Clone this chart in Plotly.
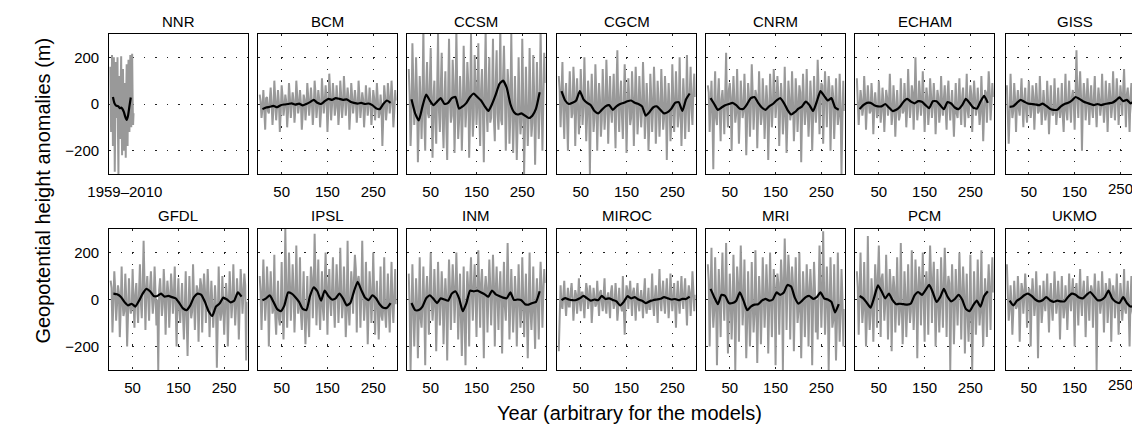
import plotly.graph_objects as go

# ---------------- data ----------------
panel_names = ["NNR", "BCM", "CCSM", "CGCM", "CNRM", "ECHAM", "GISS",
               "GFDL", "IPSL", "INM", "MIROC", "MRI", "PCM", "UKMO"]

# NNR reanalysis 1959-2010 (plotted as years 1..52)
nnr_years_a = list(range(1, 52, 2))
nnr_raw_a = [160, -120, 210, -180, 200, -290, 180, -60, 200, -300, 120, -150, 205,
             -220, 150, -200, 90, -230, 170, -180, 190, -120, 210, -100, 215, -90]
nnr_years_b = list(range(2, 53, 2))
nnr_raw_b = [40, -30, 60, -60, 20, -100, 50, 30, -120, 20, -40, 80, -60,
             10, -50, 30, -90, 40, -60, 70, -20, 40, 0, 60, 20, -40]
nnr_smooth_years = list(range(7, 47, 3))
nnr_smooth = [30, 5, -5, -8, -10, -18, -15, -22, -35, -55, -68, -50, -10, 28]

# model years: raw values read at years 2,6,10,... (a) and 4,8,12,... (b);
# smoothed series every 8 years
years_a = list(range(2, 300, 4))
years_b = list(range(4, 301, 4))
smooth_years = list(range(8, 290, 8))

raw_BCM_a = [40, -60, 60, -110, 30, -40, 70, -90, 100, -70, 60, -120, 80, -50, 40,
             -100, 90, -60, 50, -80, 100, -40, 60, -110, 40, -70, 90, -50, 70, -90,
             100, -60, 60, -100, 110, -40, 80, -120, 130, -70, 90, -50, 80, -90, 100,
             -60, 120, -50, 70, -110, 90, -40, 60, -80, 100, -60, 50, -100, 80, -50,
             70, -90, 60, -70, 90, -60, 40, -180, 80, -70, 90, -40, 100, -100, 60]
raw_BCM_b = [10, -20, -5, 25, -30, 15, 0, -25, 20, -10, 5, -35, 30, -15, 10,
             -30, 25, -5, 15, -20, 35, -10, 5, -40, 20, -15, 30, -5, 10, -25,
             40, -10, 20, -30, 35, 5, 25, -20, 45, -5, 30, -15, 20, -25, 35,
             -5, 40, 10, 25, -30, 30, 0, 15, -20, 30, -10, 20, -25, 15, -5,
             10, -30, 25, -15, 20, -40, -10, -50, 30, -20, 35, 5, 20, -30, 15]
raw_CCSM_a = [150, -180, 260, -90, 200, -250, 120, -150, 330, -200, 180, -60, 240, -230, 100,
              -170, 300, -120, 220, -190, 140, -240, 280, -80, 190, -210, 320, -150, 120, -200,
              250, -100, 180, -230, 300, -140, 210, -90, 260, -180, 150, -250, 320, -120, 200,
              -60, 280, -160, 230, -110, 340, -90, 250, -200, 150, -170, 300, -210, 120, -240,
              200, -130, 280, -300, 160, -180, 240, -140, 210, -260, 180, -150, 320, -200, 220]
raw_CCSM_b = [40, -60, 80, -30, 50, -90, 20, 10, -70, 60, -40, 90, -20, 30, -80,
              50, -30, 70, -60, 20, -90, 40, 10, -50, 80, -30, 60, -70, 20, -40,
              70, -20, 90, -50, 30, -60, 80, 10, -40, 60, -30, 70, -20, 50, -80,
              30, -60, 90, -40, 20, -70, 110, 60, -30, 80, -50, 20, -60, -40, -80,
              -20, -70, 30, -90, -10, -60, 20, -80, 40, -50, 10, -30, 60, 20, 90]
raw_CGCM_a = [120, -100, 180, -150, 90, -200, 140, -60, 160, -180, 110, -130, 150, -90, 200,
              -160, 100, -300, 130, -120, 170, -200, 90, -140, 150, -110, 190, -170, 120, -80,
              130, -190, 230, -120, 100, -150, 170, -210, 110, -90, 140, -180, 160, -130, 120,
              -100, 180, -150, 90, -200, 130, -120, 160, -170, 100, -140, 150, -110, 120, -240,
              90, -160, 170, -120, 140, -100, 200, -180, 110, -150, 210, -120, 160, -90, 130]
raw_CGCM_b = [60, 20, -30, 40, -50, 10, 30, -40, 70, -20, 0, -60, 40, -10, 20,
              -50, 30, -20, 10, -60, 40, -30, 20, -70, 30, -40, 50, -10, -30, 20,
              -40, 60, -20, 30, -50, 10, 40, -30, 20, -60, 30, -10, 40, -50, 20,
              -30, 50, -60, 0, -80, 30, -20, 40, -50, 10, -40, 30, -60, 20, -30,
              0, -70, 40, -20, 30, -50, -10, -40, 20, -30, 10, 40, -20, 60, 30]
raw_CNRM_a = [80, -120, 100, -280, 140, -90, 110, -160, 60, -130, 220, -100, 90, -200, 120,
              -80, 150, -170, 100, -60, 130, -220, 90, -140, 170, -110, 60, -190, 140, -90,
              110, -150, 80, -240, 130, -100, 150, -60, 120, -180, 90, -130, 160, -210, 100,
              -70, 140, -160, 110, -120, 80, -250, 130, -90, 150, -140, 100, -200, 120, -80,
              190, -130, 90, -170, 140, -100, 120, -200, 80, -150, 110, -90, 130, -300, 100]
raw_CNRM_b = [50, -20, -40, 10, -60, 30, -30, 20, -10, 40, -20, 60, 30, -10, 20,
              -40, 0, -50, 20, -30, 10, -60, 30, -20, 50, -10, 40, -30, 0, -50,
              20, -40, 10, -60, 30, -20, 50, 0, 40, -30, 10, -50, -20, -70, 30,
              -40, 10, -60, 30, -20, 50, -40, 10, -30, -10, -50, 20, -60, 0, -20,
              60, 20, 80, -10, 40, 30, 60, -20, 30, -40, 0, -50, -10, -60, -30]
raw_ECHAM_a = [110, -90, 60, -50, 120, -110, 80, -40, 90, -130, 50, -60, 100, -80, 70,
               -120, 60, -50, 130, -90, 80, -140, 60, -70, 110, -40, 90, -100, 150, -60,
               80, -110, 200, -70, 100, -50, 140, -120, 70, -90, 110, -60, 90, -130, 60,
               -80, 120, -50, 80, -110, 100, -70, 60, -140, 90, -60, 110, -90, 70, -100,
               130, -60, 80, -120, 100, -50, 70, -90, 120, -160, 60, -80, 140, -70, 90]
raw_ECHAM_b = [-40, -10, 20, -20, 30, -10, 10, -30, 20, -20, 0, -40, 20, -30, 10,
               -20, 30, -10, 20, -40, 10, -30, -20, -50, 0, -30, 10, -20, 30, -10,
               50, 10, 30, -20, 40, 0, 20, -10, 30, -30, 40, -10, 20, -20, 30,
               -40, 10, 20, -30, 40, -10, 0, -30, -20, -40, 20, -20, 30, -10, 10,
               -30, 20, 40, -10, 30, -20, 0, -40, 10, -30, 50, 20, 60, 0, 30]
raw_GISS_a = [80, -170, 130, -60, 90, -120, 60, -50, 110, -100, 70, -80, 100, -60, 80,
              -110, 90, -40, 120, -90, 60, -70, 100, -130, 80, -50, 110, -90, 70, -60,
              90, -120, 130, -70, 100, -80, 60, -110, 230, -60, 140, -200, 90, -70, 110,
              -90, 80, -60, 120, -100, 70, -50, 130, -80, 100, -120, 90, -60, 140, -70,
              110, -90, 80, -50, 150, -100, 70, -120, 90, -60, 130, -80, 100, -70, 120]
raw_GISS_b = [-20, -50, 10, -30, 20, 0, -20, 30, -10, 20, -30, 10, 0, -20, 30,
              -10, 20, -30, 10, -20, 0, -40, 10, -30, -20, -40, 0, -30, -10, -20,
              -50, 0, -30, 20, -10, 30, 10, 40, 20, 60, 30, 0, 40, -10, 20,
              10, -20, 30, -10, 0, 20, -10, 10, -20, 20, 0, 30, -10, 20, 10,
              40, -10, 30, 60, 20, 40, 0, 30, 10, -20, 40, 0, 30, 10, 20]
raw_GFDL_a = [80, -140, 120, -90, 60, -160, 140, -70, 110, -200, 90, -60, 130, -120, 70,
              -100, 150, -80, 250, -130, 100, -90, 120, -60, 140, -110, -300, 90, -70, 130,
              -150, 80, -120, 110, -60, 140, -200, 90, -100, 70, -170, 120, -240, 100, -80,
              150, -130, 60, -180, 90, -140, 110, -100, 130, -160, 80, -120, 60, -290, 140,
              -90, 100, -150, 70, -200, 120, -80, 150, -110, 90, -170, 130, -60, 110, -260]
raw_GFDL_b = [50, 10, 40, -20, 30, -40, -10, -50, 10, -60, -20, -40, -10, 20, -30,
              30, -10, 60, 70, 40, 10, 50, 20, -10, 30, 0, 40, 10, -20, 40,
              0, 30, -10, 40, 10, -20, 0, -40, -10, -60, -30, -70, -40, -20, -50,
              10, -20, 40, 10, 60, 20, 40, -10, 30, -30, -10, -50, -20, -90, -40,
              -60, -20, -40, 10, -30, 20, -10, 0, -30, 10, -20, 50, 20, 60, -10]
raw_IPSL_a = [100, -130, 170, -90, 140, -200, 120, -60, 190, -150, 80, -110, 160, -170, 300,
              -120, 200, -90, 150, -140, 230, -60, 180, -130, 120, -190, 100, -160, 140, -80,
              280, -110, 170, -130, 120, -90, 200, -150, 130, -70, 180, -120, 150, -100, 220,
              -80, 140, -160, 250, -110, 120, -60, 190, -140, 100, -120, 250, -90, 160, -190,
              120, -100, 200, -150, 80, -170, 140, -90, 180, -120, 110, -140, 160, -100, 130]
raw_IPSL_b = [30, -20, 40, -10, 50, 0, 20, -40, -70, -20, -80, -30, -60, -10,
              60, 20, 70, 10, 40, -10, 30, -30, -60, -10, -70, -40, -80, 20,
              90, 40, 80, 20, -30, 10, -40, 70, 30, 50, -10, 40, -20, 30,
              50, 0, 40, -20, 20, -50, -30, 0, 50, 90, 130, 80, 60, 20,
              30, -20, 10, -30, 40, 0, 30, -10, -40, -20, -70, -30, -60, -10,
              -40, 10, -30, 20, -20]
raw_INM_a = [110, -300, 150, -200, 90, -250, 180, -120, 140, -280, 100, -150, 200, -90, 130,
             -220, 160, -110, 120, -190, 90, -260, 170, -130, 150, -100, 200, -170, 110, -240,
             140, -280, 120, -200, 180, -90, 150, -160, 210, -120, 130, -250, 100, -140, 170,
             -110, 190, -200, 140, -130, 120, -230, 160, -90, 240, -170, 130, -140, 100, -200,
             150, -120, 180, -160, 110, -250, 200, -130, 140, -210, 90, -170, 160, -120, 130]
raw_INM_b = [-30, -70, -20, -60, -10, -50, -80, -20, -40, 30, -10, 40, 0, -30,
             10, -40, 20, -20, 30, -30, 10, -10, 50, 20, 60, 10, 40, -30,
             -80, -40, -90, -10, 40, 70, 20, 60, 10, 50, 30, 70, 0, 40,
             50, 20, 60, 10, 70, 30, 0, 40, -10, 20, -30, 30, 50, -20,
             10, -40, 20, -30, 0, -50, 10, -20, -60, -10, -50, -30, -60, 0,
             -20, 20, 60, 30, 70]
raw_MIROC_a = [-220, 60, -40, 80, -70, 50, -30, 70, -90, 40, -60, 90, -50, 30, -80,
               70, -40, 60, -100, 50, -30, 80, -70, 40, -50, 90, -60, 30, -80, 60,
               -40, 70, -90, 50, -30, 100, -150, 60, -40, 80, -70, 50, -90, 70, -50,
               40, -80, 90, -60, 50, -40, 110, -70, 60, -100, 130, -50, 80, -60, 90,
               -80, 110, -50, 70, -120, 80, -60, 100, -40, 90, -110, 60, -70, 120, -50]
raw_MIROC_b = [10, -20, 20, -10, 0, -30, 30, 10, -20, 20, 0, -10, 30, -20, 10,
               40, -10, 20, -30, 10, -20, 0, 30, -10, 20, -30, 10, -20, 30, 0,
               -20, 10, -40, -20, -50, -30, -10, 40, 20, 0, 30, -10, 20, -20, 10,
               -10, 20, -30, -10, -40, 0, -20, 10, -10, 20, 0, 30, -10, 20, 10,
               -10, 20, 0, -20, 10, -10, 20, 0, 30, -10, 10, 30, 0, 40, 20]
raw_MRI_a = [150, -200, 220, -120, 180, -280, 130, -160, 200, -90, 240, -230, 110, -170, 190,
             -300, 140, -180, 230, -110, 170, -250, 120, -200, 160, -140, 210, -270, 100, -190,
             180, -120, 150, -230, 200, -160, 130, -280, 110, -150, 170, -300, 260, -130, 190,
             -170, 140, -220, 180, -100, 200, -250, 120, -160, 150, -200, 130, -280, 160, -140,
             -170, 230, -120, 290, -150, 140, -300, 180, -120, 150, -260, 200, -180, 130, -200]
raw_MRI_b = [80, 30, -10, -50, 20, -40, -10, 60, 10, 40, -30, -60, 0, -50,
             20, -30, 70, 30, 60, -20, -40, -90, -30, -70, -10, -60, -20, -50,
             10, -40, 30, -20, 40, -30, 10, -10, 60, 20, 70, 10, 80, 40,
             100, 60, 110, 30, 70, -10, 20, -50, -10, -40, 30, -20, 50, 10,
             40, -20, 50, 0, 30, 70, 20, 40, -30, 20, -40, 10, -90, -50,
             -100, -20, -60, 10, -40]
raw_PCM_a = [120, -150, 200, -100, 160, -200, 270, -130, 90, -180, 150, -120, 230, -160, 110,
             -90, 190, -170, 130, -220, 100, -140, 180, -110, 240, -190, 120, -160, 150, -100,
             210, -130, 170, -250, 140, -110, 200, -180, 120, -150, 230, -100, 160, -200, 130,
             -140, 180, -120, 220, -160, 100, -300, 150, -190, 130, -110, 200, -170, 140, -230,
             110, -180, 190, -300, 120, -150, 170, -110, 210, -200, 90, -160, 150, -130, 180]
raw_PCM_b = [50, -10, 20, -40, -20, -70, -30, -60, 10, -20, 60, 100, 50, 90,
             30, -20, 40, -10, 60, 20, 50, -30, 0, -50, -10, -60, 20, -40,
             -10, -50, 20, -30, 60, 10, 70, 40, 10, 60, 30, 80, 100, 70,
             20, -40, 0, -30, 30, 60, 80, 40, 70, -20, 20, -40, 10, 30,
             50, 0, 40, -30, -70, -40, -90, -60, -20, -50, 10, -40, -60, -20,
             0, 40, 20, 70, 30]
raw_UKMO_a = [150, -90, 60, -150, 80, -40, 100, -180, 70, -60, 110, -120, 50, -200, 90,
              -70, 120, -250, 60, -100, 80, -50, 110, -140, 70, -90, 120, -60, 80, -170,
              100, -80, 60, -130, 110, -50, 90, -200, 70, -110, 130, -70, 80, -160, 100,
              -90, 60, -120, 110, -300, 80, -60, 120, -140, 70, -100, 90, -180, 60, -80,
              110, -150, 70, -90, 130, -60, 80, -200, 100, -70, 90, -130, 60, -110, 80]
raw_UKMO_b = [20, -40, -10, -50, 0, -30, 20, -20, 40, 10, 30, -10, 40, 0, 20,
              -20, 10, -30, 0, -40, -10, 20, -20, 10, -30, 0, 30, -20, 10, -30,
              -10, -40, 0, -20, 10, 30, -10, 40, 0, 20, -10, 30, 10, -20, 10,
              20, 40, 0, 30, -10, 10, -20, 20, -10, 40, -30, 60, 0, 30, -10,
              10, -30, 20, -20, -40, 10, -30, 0, -50, -20, -40, -10, -60, -30, -20]

smooth_BCM = [-22, -15, -12, -8, -14, -5, -2, 0, 3, -3, 2, -6, 0, 8, 18, 5, 0, 12,
              22, 18, 25, 22, 18, 20, 10, 5, 2, 5, 0, 2, -5, -18, -22, 0, 15, 5]
smooth_CCSM = [20, -40, -70, -10, 40, 15, -5, 10, 25, 0, 5, 25, 30, -20, -10, 5, 30, 45,
               30, 15, -10, -30, 0, 40, 85, 100, 70, 0, -35, -45, -40, -50, -60, -50, -20, 50]
smooth_CGCM = [55, 15, 0, 5, 15, 55, 20, 5, -5, -30, -40, -25, -10, -5, -25, -10, 0, 5,
               12, 15, 5, 0, -10, -50, -35, -15, -10, -25, -40, -35, -20, 5, 8, -30, 20, 45]
smooth_CNRM = [25, 0, -25, -15, -5, 0, 5, -5, -20, -20, 0, 25, 30, 5, -15, -25, -10, 0,
               15, 25, 5, -25, -45, -35, -20, -10, 10, -5, -30, 10, 55, 35, 15, 25, -15, -25]
smooth_ECHAM = [-22, -5, 5, 5, -5, -10, -10, 0, -15, -30, -25, -12, 10, 22, 10, 3, 12, 10,
                -5, -18, 12, 12, -5, -22, 8, 2, -15, -22, -5, 22, 5, -15, -20, 10, 35, 5]
smooth_GISS = [-12, -10, 5, 18, 10, 2, 0, -2, -5, 2, -8, -20, -25, -25, -10, 0, 5, 15,
               30, 22, 12, 5, 0, -5, 0, -5, 0, 3, 5, 15, 28, 12, 18, 3, 10, 5]
smooth_GFDL = [25, 22, 12, -10, -25, -18, -30, -5, 25, 45, 35, 15, 15, 25, 12, 15, 10, 5,
               -15, -38, -45, -25, 10, 25, 20, -10, -50, -70, -30, -17, 8, 0, -12, -5, 30, 12]
smooth_IPSL = [-3, 5, 18, -10, -40, -50, -25, 30, 25, 10, -10, -40, -45, 15, 52, 35, -5, 38,
               15, 0, 5, 25, 5, -25, -15, 35, 75, 40, 8, -3, 18, 5, -20, -35, -35, -15]
smooth_INM = [-15, -45, -45, -30, 5, 18, 3, -15, 5, 0, -5, 25, 35, 5, -50, -15, 38, 35,
              38, 30, 22, 12, 38, 22, 15, 8, 5, 30, -2, 0, -3, -20, -22, -15, -10, 35]
smooth_MIROC = [-3, 6, 0, -3, -2, 5, 15, 5, -5, 0, -3, 15, 2, 5, -2, -8, -25, -10,
                14, 5, 10, 0, -5, -15, -8, -3, 0, 3, 10, 5, 0, 2, -3, 3, 2, 12]
smooth_MRI = [45, 10, -20, 20, 15, -15, -15, -5, 30, -5, -45, -30, -22, -20, -5, 3, -5, 0,
              30, 20, 30, 62, 55, 8, -18, -5, 10, 15, 3, 10, 30, 5, 0, -10, -55, -20]
smooth_PCM = [15, 5, -15, -35, 10, 60, 35, 5, 25, -3, -20, -18, -20, -22, -17, 18, 32, 20,
              40, 62, 30, -10, 10, 45, 12, -8, 2, 20, 0, -40, -50, -25, -5, -30, 15, 35]
smooth_UKMO = [-5, -25, -5, 5, 18, 25, 15, 0, -8, -3, 10, -3, -10, -5, -8, -8, 12, 25,
               20, 8, 5, 20, 32, 15, -3, -2, 10, 38, 5, -10, -15, 10, -15, -30, -25, -10]

raw_a = {"BCM": raw_BCM_a, "CCSM": raw_CCSM_a, "CGCM": raw_CGCM_a, "CNRM": raw_CNRM_a,
         "ECHAM": raw_ECHAM_a, "GISS": raw_GISS_a, "GFDL": raw_GFDL_a, "IPSL": raw_IPSL_a,
         "INM": raw_INM_a, "MIROC": raw_MIROC_a, "MRI": raw_MRI_a, "PCM": raw_PCM_a,
         "UKMO": raw_UKMO_a}
raw_b = {"BCM": raw_BCM_b, "CCSM": raw_CCSM_b, "CGCM": raw_CGCM_b, "CNRM": raw_CNRM_b,
         "ECHAM": raw_ECHAM_b, "GISS": raw_GISS_b, "GFDL": raw_GFDL_b, "IPSL": raw_IPSL_b,
         "INM": raw_INM_b, "MIROC": raw_MIROC_b, "MRI": raw_MRI_b, "PCM": raw_PCM_b,
         "UKMO": raw_UKMO_b}
smooth_series = {"BCM": smooth_BCM, "CCSM": smooth_CCSM, "CGCM": smooth_CGCM,
                 "CNRM": smooth_CNRM, "ECHAM": smooth_ECHAM, "GISS": smooth_GISS,
                 "GFDL": smooth_GFDL, "IPSL": smooth_IPSL, "INM": smooth_INM,
                 "MIROC": smooth_MIROC, "MRI": smooth_MRI, "PCM": smooth_PCM,
                 "UKMO": smooth_UKMO}

x_tick_vals = [50, 150, 250]
y_tick_vals = [-200, 0, 200]
y_range = [-300, 300]
nnr_tick_label = "1959\u20132010"


def merge(ya, va, yb, vb):
    pts = sorted(zip(list(ya[:len(va)]) + list(yb[:len(vb)]), list(va) + list(vb)))
    return [p[0] for p in pts], [p[1] for p in pts]


# ---------------- layout ----------------
W, H = 1132, 425
col_left_px = [89, 241, 393, 546, 698, 850, 1003]
panel_w_px = 141
row_top_px = [34, 229]
panel_h_px = [140, 141]
x_lo, x_hi = -1, 301
px_per_year = panel_w_px / (x_hi - x_lo)

FONT = "Liberation Sans, Arial, Helvetica, sans-serif"
GRAY = "#999999"
GRID = dict(showgrid=True, gridcolor="#222222", gridwidth=1, griddash="1.5px,10px")

fig = go.Figure()
layout = dict(width=W, height=H, margin=dict(l=0, r=0, t=0, b=0),
              paper_bgcolor="white", plot_bgcolor="white", showlegend=False,
              font=dict(family=FONT, size=15, color="black"))
annotations = []

for i, name in enumerate(panel_names):
    row, col = divmod(i, 7)
    ax = "" if i == 0 else str(i + 1)
    left = col_left_px[col]
    right = min(left + panel_w_px, W)
    xr_hi = x_lo + (right - left) / px_per_year
    top = row_top_px[row]
    bot = top + panel_h_px[row]
    last_col = (col == 6)

    xaxis = dict(domain=[left / W, right / W], range=[x_lo, xr_hi], anchor="y" + ax,
                 showline=True, linecolor="black", linewidth=1.2, mirror=True,
                 zeroline=False, ticks="", ticklabelstandoff=4,
                 ticklabeloverflow="allow",
                 tickfont=dict(size=15), **GRID)
    yaxis = dict(domain=[1 - bot / H, 1 - top / H], range=y_range, anchor="x" + ax,
                 showline=True, linecolor="black", linewidth=1.2,
                 mirror=(not last_col), zeroline=False, ticks="",
                 tickvals=y_tick_vals, showticklabels=(col == 0),
                 ticklabelstandoff=6, tickfont=dict(size=15), **GRID)
    if name == "NNR":
        xaxis.update(tickvals=[33], ticktext=[nnr_tick_label], showgrid=False)
    elif last_col:
        # the label of the last tick runs past the page edge; plotly drops it,
        # so it is written as an annotation anchored on the panel's own axes
        xaxis.update(tickvals=x_tick_vals,
                     ticktext=[str(v) for v in x_tick_vals[:-1]] + [""])
        annotations.append(dict(text=str(x_tick_vals[-1]), xref="x" + ax, yref="y" + ax,
                                x=x_tick_vals[-1], y=y_range[0], yshift=-14,
                                xanchor="center", yanchor="middle", showarrow=False,
                                font=dict(size=15)))
    else:
        xaxis.update(tickvals=x_tick_vals)
    layout["xaxis" + ax] = xaxis
    layout["yaxis" + ax] = yaxis

    if name == "NNR":
        xs_raw, ys_raw = merge(nnr_years_a, nnr_raw_a, nnr_years_b, nnr_raw_b)
        xs_s, ys_s = nnr_smooth_years, nnr_smooth
    else:
        xs_raw, ys_raw = merge(years_a, raw_a[name], years_b, raw_b[name])
        xs_s, ys_s = smooth_years, smooth_series[name]

    fig.add_trace(go.Scatter(x=xs_raw, y=ys_raw, mode="lines",
                             line=dict(color=GRAY, width=2.0),
                             xaxis="x" + ax, yaxis="y" + ax, hoverinfo="skip"))
    fig.add_trace(go.Scatter(x=xs_s, y=ys_s, mode="lines",
                             line=dict(color="black", width=2.2, shape="spline",
                                       smoothing=0.5),
                             xaxis="x" + ax, yaxis="y" + ax, hoverinfo="skip"))

    annotations.append(dict(text=name, xref="paper", yref="paper",
                            x=(left + panel_w_px / 2) / W, y=1 - (top - 13) / H,
                            xanchor="center", yanchor="middle", showarrow=False,
                            font=dict(size=15)))

annotations.append(dict(text="Geopotential height anomalies (m)", xref="paper", yref="paper",
                        x=21 / W, y=1 - 191 / H, textangle=-90, xanchor="center",
                        yanchor="middle", showarrow=False, font=dict(size=20)))
annotations.append(dict(text="Year (arbitrary for the models)", xref="paper", yref="paper",
                        x=620 / W, y=1 - 413 / H, xanchor="center", yanchor="middle",
                        showarrow=False, font=dict(size=20)))
layout["annotations"] = annotations
fig.update_layout(**layout)
fig.write_html("out.html")
